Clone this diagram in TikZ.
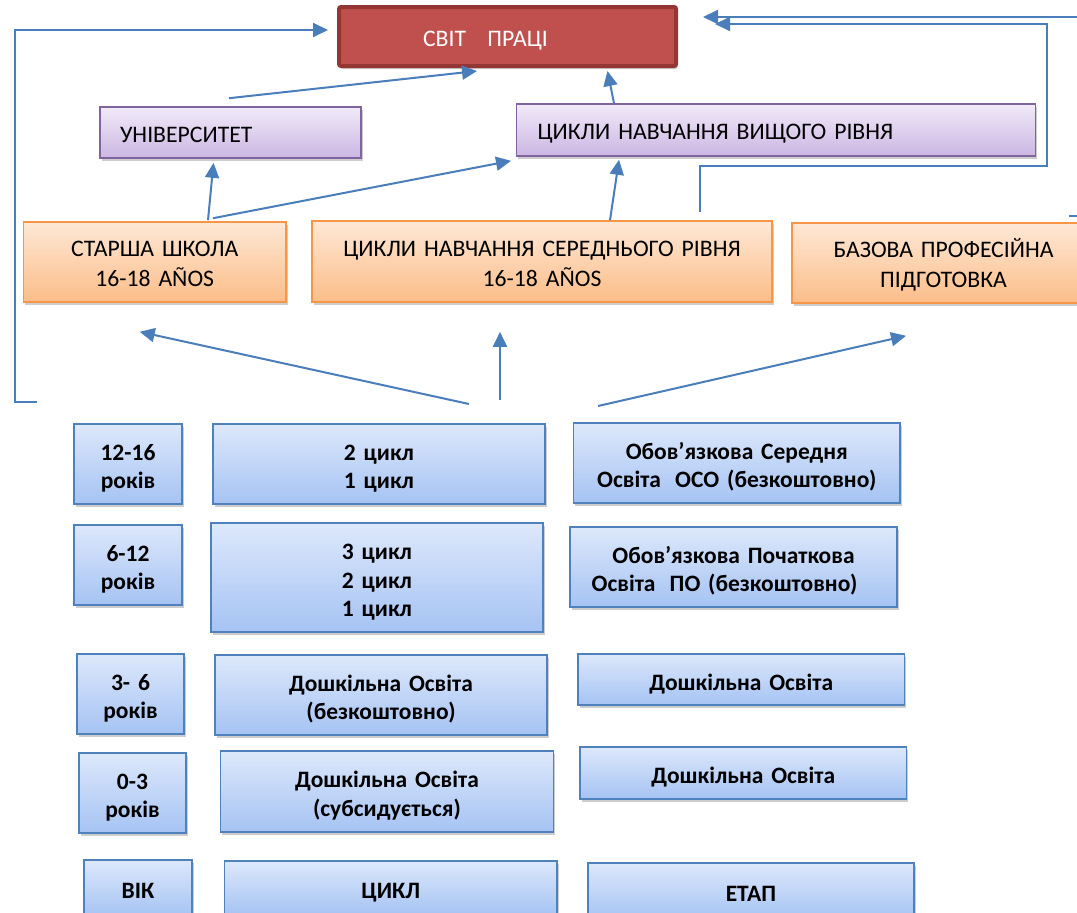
\documentclass[tikz,border=0pt]{standalone}
\usepackage{fontspec}
\setmainfont{Carlito}
\usetikzlibrary{arrows.meta,calc,shadows}
\definecolor{arrowblue}{HTML}{4A7EBB}
\definecolor{worldfill}{HTML}{C0504D}
\definecolor{worlddraw}{HTML}{943634}
\definecolor{purtop}{HTML}{F1EAF9}
\definecolor{purbot}{HTML}{CBB6E2}
\definecolor{purdraw}{HTML}{8064A2}
\definecolor{ortop}{HTML}{FEE8D6}
\definecolor{orbot}{HTML}{FBBD88}
\definecolor{ordraw}{HTML}{F79646}
\definecolor{bltop}{HTML}{DDE8FB}
\definecolor{blbot}{HTML}{A5C3F3}
\definecolor{bldraw}{HTML}{4F81BD}
\tikzset{
  shad/.style={drop shadow={shadow xshift=1.5pt, shadow yshift=-3pt, opacity=0.28, fill=black!70}},
  topstrut/.style={execute at begin node={\rule{0pt}{25pt}}, execute at end node={\rule[-6pt]{0pt}{6pt}}},
  botstrut/.style={execute at begin node={\rule{0pt}{27pt}}, execute at end node={\rule[-6pt]{0pt}{6pt}}},
  basebox/.style={draw, line width=1.6pt, inner sep=0pt, shad},
  purbox/.style={basebox, draw=purdraw, top color=purtop, bottom color=purbot, align=left,
     font=\fontsize{23.7}{30}\selectfont, topstrut},
  orbox/.style={basebox, draw=ordraw, top color=ortop, bottom color=orbot, align=center,
     font=\fontsize{23.7}{30}\selectfont, topstrut},
  blbox/.style={basebox, draw=bldraw, top color=bltop, bottom color=blbot, align=center,
     font=\bfseries\fontsize{23.5}{28.6}\selectfont, botstrut},
  worldbox/.style={draw=worlddraw, fill=worldfill, line width=4pt, rounded corners=2pt,
     inner sep=0pt, align=left, text=white, font=\fontsize{23.7}{30}\selectfont, shad, topstrut},
  arr/.style={draw=arrowblue, line width=2pt, -{Triangle[length=15pt,width=14pt]}},
}
\begin{document}
\begin{tikzpicture}[x=1pt,y=-1pt]
\useasboundingbox (0,0) rectangle (1077,913);
\clip (0,0) rectangle (1077,913);

% top nodes
\node[worldbox, text width=337pt, minimum height=59pt] (world) at (507.5,36.5) {\hspace*{84pt}СВІТ\hspace{0.9em}ПРАЦІ};
\node[purbox, text width=261pt, minimum height=51pt] (univ) at (230.5,132.5) {\hspace*{20pt}УНІВЕРСИТЕТ};
\node[purbox, text width=519pt, minimum height=52pt] (higher) at (776,130) {\hspace*{21pt}ЦИКЛИ НАВЧАННЯ ВИЩОГО РІВНЯ};
\node[orbox, text width=262.6pt, minimum height=80pt] (senior) at (154.7,262) {СТАРША ШКОЛА\\16-18 AÑOS};
\node[orbox, text width=460pt, minimum height=81pt] (mid) at (542,261.5) {ЦИКЛИ НАВЧАННЯ СЕРЕДНЬОГО РІВНЯ\\16-18 AÑOS};
\node[orbox, text width=303pt, minimum height=80pt] (basic) at (943.5,263) {БАЗОВА ПРОФЕСІЙНА\\ПІДГОТОВКА};

% bottom grid
\node[blbox, text width=108pt, minimum height=80pt] (a1) at (128,464) {12-16\\років};
\node[blbox, text width=332pt, minimum height=80pt] (c1) at (379,464) {2 цикл\\1 цикл};
\node[blbox, text width=326.5pt, minimum height=80pt] (s1) at (736.75,463) {Обов’язкова Середня\\Освіта\hspace{0.6em}ОСО (безкоштовно)};

\node[blbox, text width=108pt, minimum height=80pt] (a2) at (128,565) {6-12\\років};
\node[blbox, text width=332pt, minimum height=109pt] (c2) at (377,577.5) {3 цикл\\2 цикл\\1 цикл};
\node[blbox, text width=327pt, minimum height=80pt] (s2) at (733.5,567) {Обов’язкова Початкова\hspace*{16pt}\\Освіта\hspace{0.6em}ПО (безкоштовно)\hspace*{18pt}};

\node[blbox, text width=107pt, minimum height=80pt] (a3) at (130.5,694) {3- 6\\років};
\node[blbox, text width=332pt, minimum height=80pt] (c3) at (381,695) {Дошкільна Освіта\\(безкоштовно)};
\node[blbox, text width=326.5pt, minimum height=51pt] (s3) at (741.25,679.5) {Дошкільна Освіта};

\node[blbox, text width=107pt, minimum height=80pt] (a4) at (132.5,793) {0-3\\років};
\node[blbox, text width=333pt, minimum height=81pt] (c4) at (387,791.5) {Дошкільна Освіта\\(субсидується)};
\node[blbox, text width=326.5pt, minimum height=52pt] (s4) at (743.25,773) {Дошкільна Освіта};

\node[blbox, text width=108pt, minimum height=56pt] (a5) at (138,888) {ВІК};
\node[blbox, text width=332.5pt, minimum height=54pt] (c5) at (390.75,888) {ЦИКЛ};
\node[blbox, text width=326pt, minimum height=56pt] (e5) at (751,891) {ЕТАП};

% connectors between top nodes
\draw[arr] ($(univ.north)+(-1.5,-8)$) -- ($(world.south)+(-30.5,3)$);
\draw[arr] ($(higher.north)+(-162,0)$) -- ($(world.south)+(100,3)$);
\draw[arr] ($(senior.north)+(53.3,-1)$) -- ($(univ.south)+(-17,4)$);
\draw[arr] ($(senior.north)+(58.3,-3)$) -- ($(higher.south)+(-265,4)$);
\draw[arr] ($(mid.north)+(68,0)$) -- ($(higher.south)+(-157,3)$);

% brackets
\coordinate (lb) at (37,402);
\draw[arr] (lb) -- (14.5,402) -- (14.5,30) -- ($(world.west)+(-9,-6.5)$);
\coordinate (rb) at (700,212);
\draw[arr] (rb) -- (700,166) -- (1047,166) -- (1047,24) -- ($(world.east)+(37,-12.5)$);
\coordinate (rs) at (1069,216);
\draw[arr] (rs) -- (1100,216) -- (1100,17) -- ($(world.east)+(25,-19.5)$);

% arrows from the lower stages
\coordinate (b1) at (469,404);
\coordinate (b2) at (500,400);
\coordinate (b3) at (598,406);
\draw[arr] (b1) -- ($(senior.south)+(-15,29)$);
\draw[arr] (b2) -- ($(mid.south)+(-42,29)$);
\draw[arr] (b3) -- ($(basic.south)+(-37.5,32)$);
\end{tikzpicture}
\end{document}
